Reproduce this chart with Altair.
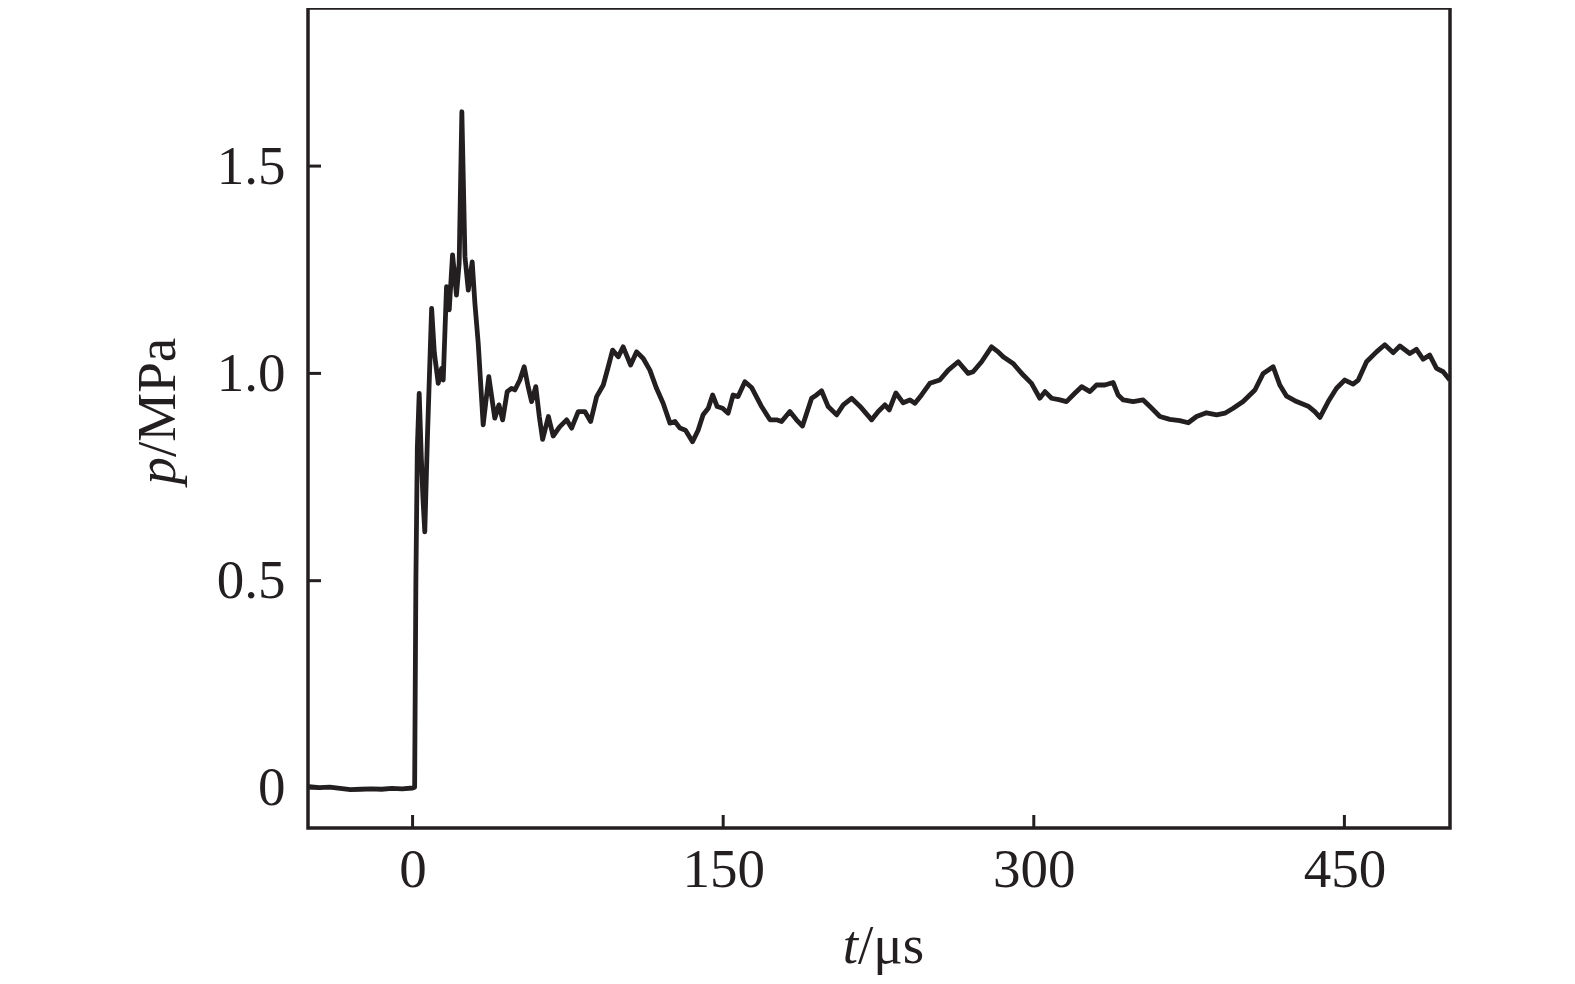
import altair as alt
import pandas as pd

# time in microseconds
t_us = [-50, -45, -40, -35, -30, -25, -20, -15, -10, -5, 0, 1.0,
        1.6, 2.3, 3.2, 4.2, 5.0, 5.9, 7.2, 9.2, 10.5, 12.4, 14.0, 14.8, 16.4, 17.7,
        19.3, 21.2, 22.5, 23.8, 25.3, 26.9, 28.8, 30.1, 31.7, 34.1, 36.8, 39.7, 41.7,
        43.5, 45.7, 47.8, 49.4, 51.8, 53.9, 55.8, 57.5, 59.5, 61.2, 62.8, 65.6, 67.9,
        71.0, 74.4, 76.8, 80.0, 83.2, 86.0, 88.9, 92.1, 94.5, 96.6, 99.3, 101.7, 105.3,
        108.2, 111.4, 114.6, 117.8, 121.0, 124.3, 126.7, 129.1, 131.8, 135.2, 137.9,
        140.3, 142.8, 144.9, 147.1, 149.7, 152.4, 154.8, 157.2, 160.5, 163.7, 168.3,
        172.6, 175.8, 178.2, 182.2, 185.4, 188.3, 192.7, 195.1, 197.5, 200.7, 204.8,
        208.0, 212.0, 216.0, 221.7, 224.9, 228.1, 230.2, 233.4, 236.9, 240.2, 242.6,
        245.8, 249.8, 254.6, 258.7, 263.5, 268.3, 270.7, 274.8, 279.6, 282.8, 285.2,
        290.0, 294.9, 298.9, 302.9, 305.4, 308.6, 312.6, 315.8, 319.8, 323.1, 327.1,
        330.3, 334.3, 338.3, 340.7, 343.2, 348.0, 352.8, 356.1, 360.9, 365.7, 370.5,
        374.6, 378.6, 383.4, 388.3, 392.3, 396.3, 401.1, 406.8, 410.8, 415.6, 418.8,
        422.1, 426.9, 432.5, 435.7, 438.2, 442.2, 446.2, 450.2, 454.2, 456.7, 460.7,
        465.5, 469.5, 473.6, 476.8, 481.6, 484.8, 488.0, 491.2, 494.5, 497.7, 500.9]

# pressure in MPa
p_mpa = [0.003, 0.001, 0.002, -0.001, -0.004, -0.003, -0.002, -0.003, -0.001, -0.002, 0.0, 0.002,
         0.50, 0.82, 0.952, 0.80, 0.70, 0.618, 0.85, 1.157, 1.05, 0.976, 1.012, 0.984, 1.209, 1.153,
         1.286, 1.189, 1.266, 1.631, 1.281, 1.201, 1.269, 1.169, 1.073, 0.876, 0.992, 0.892, 0.924,
         0.888, 0.956, 0.964, 0.960, 0.984, 1.016, 0.968, 0.932, 0.968, 0.896, 0.841, 0.896, 0.849,
         0.871, 0.888, 0.868, 0.908, 0.908, 0.884, 0.944, 0.972, 1.016, 1.056, 1.040, 1.064, 1.020,
         1.052, 1.036, 1.008, 0.964, 0.928, 0.880, 0.884, 0.868, 0.863, 0.835, 0.863,
         0.900, 0.916, 0.948, 0.920, 0.916, 0.904, 0.948, 0.944, 0.980, 0.966, 0.922,
         0.888, 0.888, 0.884, 0.908, 0.888, 0.873, 0.940, 0.948, 0.958, 0.920, 0.900,
         0.924, 0.940, 0.921, 0.888, 0.908, 0.924, 0.912, 0.953, 0.929, 0.936, 0.928,
         0.948, 0.976, 0.984, 1.008, 1.028, 1.000, 1.004, 1.028, 1.064, 1.052, 1.040,
         1.024, 0.996, 0.976, 0.940, 0.956, 0.940, 0.936, 0.932, 0.952, 0.968, 0.956,
         0.972, 0.972, 0.978, 0.948, 0.936, 0.932, 0.936, 0.920, 0.896, 0.889, 0.886,
         0.881, 0.896, 0.905, 0.900, 0.904, 0.916, 0.932, 0.960, 1.000, 1.016, 0.972,
         0.945, 0.932, 0.921, 0.908, 0.894, 0.932, 0.964, 0.984, 0.974, 0.984, 1.028,
         1.052, 1.069, 1.050, 1.066, 1.048, 1.058, 1.034, 1.044, 1.012, 1.004, 0.984]

x_ticks = [0, 150, 300, 450]
y_ticks = [0, 0.5, 1.0, 1.5]
x_title = ["t", "/μs"]
y_title = ["p", "/MPa"]

INK = "#231f20"
FONT = "Liberation Serif"
FS = 55
W, H = 1142, 820

df = pd.DataFrame({"t": t_us, "p": p_mpa})
xs = alt.Scale(domain=[-50.5, 501], nice=False, zero=False)
ys = alt.Scale(domain=[-0.0965, 1.8813], nice=False, zero=False)

line = alt.Chart(df).mark_line(color=INK, strokeWidth=4.8, clip=True, strokeJoin="round").encode(
    x=alt.X("t:Q", scale=xs, axis=alt.Axis(values=x_ticks, title=None, grid=False, domain=False,
                                            ticks=False, tickSize=0, labelFont=FONT, labelFontSize=FS,
                                            labelColor=INK, labelPadding=15, labelFlush=False)),
    y=alt.Y("p:Q", scale=ys, axis=alt.Axis(values=y_ticks, title=None, grid=False, domain=False,
                                            ticks=False, tickSize=0, labelFont=FONT, labelFontSize=FS,
                                            labelColor=INK, labelPadding=23, labelFlush=False,
                                            labelExpr="datum.value == 0 ? '0' : format(datum.value, '.1f')")),
)

xt = alt.Chart(pd.DataFrame({"v": x_ticks})).mark_rule(color=INK, strokeWidth=3).encode(
    x=alt.X("v:Q", scale=xs), y=alt.value(H), y2=alt.value(H - 13))
yt = alt.Chart(pd.DataFrame({"v": y_ticks})).mark_rule(color=INK, strokeWidth=3).encode(
    y=alt.Y("v:Q", scale=ys), x=alt.value(0), x2=alt.value(13))

xt1 = alt.Chart(pd.DataFrame({"s": [x_title[0]]})).mark_text(
    font=FONT, fontSize=FS, fontStyle="italic", color=INK, align="right", baseline="alphabetic"
).encode(text="s:N", x=alt.value(550), y=alt.value(955))
xt2 = alt.Chart(pd.DataFrame({"s": [x_title[1]]})).mark_text(
    font=FONT, fontSize=FS, color=INK, align="left", baseline="alphabetic"
).encode(text="s:N", x=alt.value(550), y=alt.value(955))

yt1 = alt.Chart(pd.DataFrame({"s": [y_title[0]]})).mark_text(
    font=FONT, fontSize=FS, fontStyle="italic", color=INK, align="right", baseline="alphabetic", angle=270
).encode(text="s:N", x=alt.value(-133), y=alt.value(449))
yt2 = alt.Chart(pd.DataFrame({"s": [y_title[1]]})).mark_text(
    font=FONT, fontSize=FS, color=INK, align="left", baseline="alphabetic", angle=270
).encode(text="s:N", x=alt.value(-133), y=alt.value(449))

chart = alt.layer(line, xt, yt, xt1, xt2, yt1, yt2).properties(
    width=W, height=H,
    autosize=alt.AutoSizeParams(type="none"),
    padding={"left": 300, "top": 0, "right": 117, "bottom": 148},
    background="white",
).configure_view(stroke=INK, strokeWidth=3.5)

chart.save("out.html", embed_options={"renderer": "svg", "actions": False})
